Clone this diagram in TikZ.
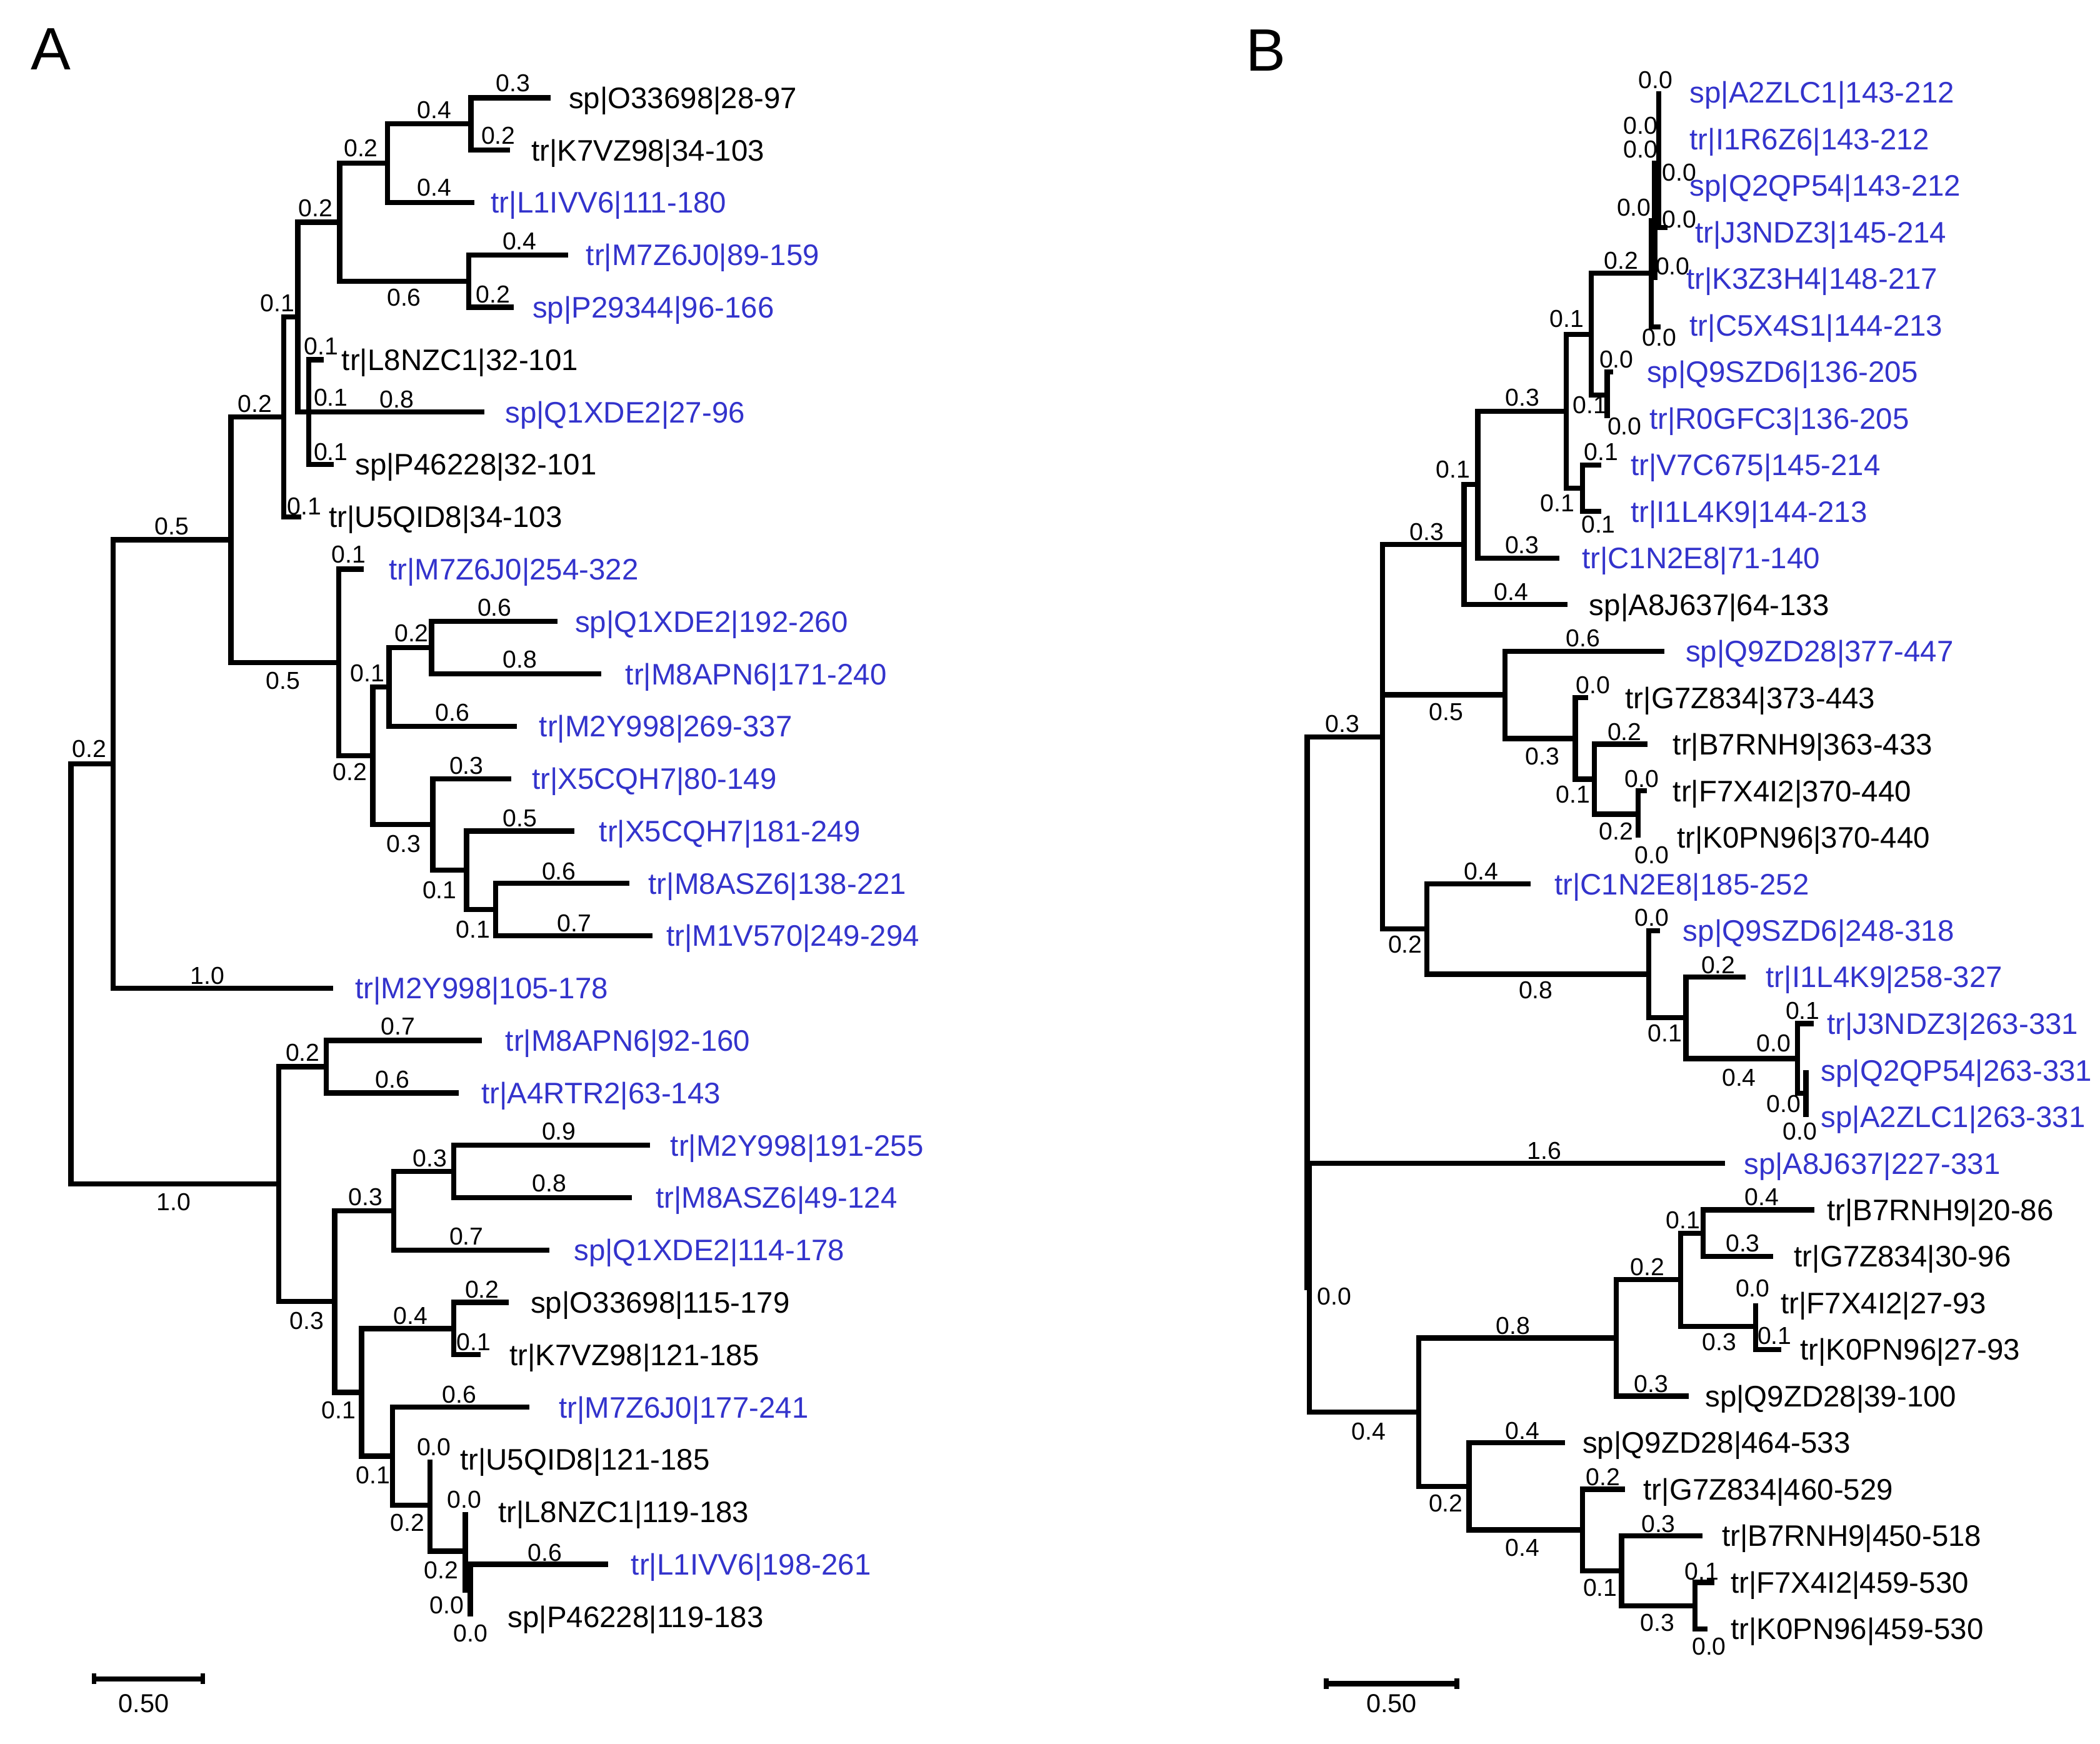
\documentclass[tikz,border=0pt]{standalone}
\usepackage{fontspec}
\setmainfont{Liberation Sans}
\definecolor{tblue}{RGB}{51,51,204}
\newcount\blc
\tikzset{
  br/.style={line width=1.1pt},
  lab/.style={inner sep=0pt, font=\fontsize{6.3}{7.5}\selectfont},
  num/.style={inner sep=0pt, font=\fontsize{5.2}{6}\selectfont},
  scl/.style={inner sep=0pt, font=\fontsize{5.5}{6.5}\selectfont},
  panel/.style={inner sep=0pt, font=\fontsize{12.7}{15}\selectfont},
  blu/.style={text=tblue},
  blk/.style={text=black}
}
\newcommand\tl[5]{\node[lab,#5,anchor=base west] (#1) at (#2,{#3+7.9}) {#4};}
\newcommand\bl[3]{\global\advance\blc by 1 \node[num] (bl\the\blc) at (#1,#2) {#3};}
\begin{document}
\begin{tikzpicture}[x=0.01cm,y=-0.01cm]
\fill[white] (0,0) rectangle (1568,1302);
\useasboundingbox (0,0) rectangle (1568,1302);
\node[panel] (pA) at (38,36.5) {A};
\node[panel] (pB) at (945,37.5) {B};
% ================= Panel A branches =================
\draw[br] (411,73) -| (351.7,112.1) -- (381,112.1);
\draw[br] (351.7,92.55) -| (289.2,151.2) -- (354,151.2);
\draw[br] (424,190.3) -| (350,229.4) -- (383.6,229.4);
\draw[br] (289.2,121.9) -| (253.6,209.85) -- (350,209.85);
\draw[br] (241.5,268.5) -| (230.6,346.7) -- (249,346.7);
\draw[br] (230.6,307.6) -- (361.6,307.6);
\draw[br] (253.6,165.9) -| (222.4,307.6) -- (230.6,307.6);
\draw[br] (222.4,236.75) -| (211.9,385.8) -- (225,385.8);
\draw[br] (416.2,464) -| (322.3,503.1) -- (448.8,503.1);
\draw[br] (322.3,483.55) -| (290.5,542.2) -- (386,542.2);
\draw[br] (469.8,659.5) -| (370.1,698.6) -- (487.4,698.6);
\draw[br] (428.7,620.4) -| (348.3,679.05) -- (370.1,679.05);
\draw[br] (381.8,581.3) -| (323.2,649.7) -- (348.3,649.7);
\draw[br] (290.5,512.9) -| (278.4,615.5) -- (323.2,615.5);
\draw[br] (271.6,424.9) -| (252.8,564.2) -- (278.4,564.2);
\draw[br] (211.9,311.3) -| (172.4,494.55) -- (252.8,494.55);
\draw[br] (172.4,402.9) -| (84.4,737.7) -- (248.6,737.7);
\draw[br] (360,776.8) -| (243.6,815.9) -- (342.5,815.9);
\draw[br] (485.3,855) -| (338.7,894.1) -- (471.9,894.1);
\draw[br] (338.7,874.55) -| (293.9,933.2) -- (410.3,933.2);
\draw[br] (379.7,972.3) -| (338.7,1011.4) -- (358.8,1011.4);
\draw[br] (453.9,1167.8) -| (351.2,1206.9);
\draw[br] (347.5,1128.7) -- (347.5,1187.35) -- (351.2,1187.35);
\draw[br] (321.1,1089.6) -- (321.1,1158) -- (347.5,1158);
\draw[br] (395.2,1050.5) -| (293,1123.8) -- (321.1,1123.8);
\draw[br] (338.7,991.85) -| (270,1087.15) -- (293,1087.15);
\draw[br] (293.9,903.9) -| (249.9,1039.5) -- (270,1039.5);
\draw[br] (243.6,796.35) -| (208,971.7) -- (249.9,971.7);
\draw[br] (84.4,570.3) -| (53,884) -- (208,884);
% ================= Panel A labels =================
\tl{a0}{424}{73}{sp|O33698|28-97}{blk}
\tl{a1}{396}{112.1}{tr|K7VZ98|34-103}{blk}
\tl{a2}{366}{151.2}{tr|L1IVV6|111-180}{blu}
\tl{a3}{437}{190.3}{tr|M7Z6J0|89-159}{blu}
\tl{a4}{397}{229.4}{sp|P29344|96-166}{blu}
\tl{a5}{254.5}{268.5}{tr|L8NZC1|32-101}{blk}
\tl{a6}{376.5}{307.6}{sp|Q1XDE2|27-96}{blu}
\tl{a7}{264.5}{346.7}{sp|P46228|32-101}{blk}
\tl{a8}{245}{385.8}{tr|U5QID8|34-103}{blk}
\tl{a9}{289.7}{424.9}{tr|M7Z6J0|254-322}{blu}
\tl{a10}{428.7}{464}{sp|Q1XDE2|192-260}{blu}
\tl{a11}{466.4}{503.1}{tr|M8APN6|171-240}{blu}
\tl{a12}{402}{542.2}{tr|M2Y998|269-337}{blu}
\tl{a13}{396.5}{581.3}{tr|X5CQH7|80-149}{blu}
\tl{a14}{446.8}{620.4}{tr|X5CQH7|181-249}{blu}
\tl{a15}{483.6}{659.5}{tr|M8ASZ6|138-221}{blu}
\tl{a16}{497}{698.6}{tr|M1V570|249-294}{blu}
\tl{a17}{264.5}{737.7}{tr|M2Y998|105-178}{blu}
\tl{a18}{376.8}{776.8}{tr|M8APN6|92-160}{blu}
\tl{a19}{358.8}{815.9}{tr|A4RTR2|63-143}{blu}
\tl{a20}{500}{855}{tr|M2Y998|191-255}{blu}
\tl{a21}{489}{894.1}{tr|M8ASZ6|49-124}{blu}
\tl{a22}{427.9}{933.2}{sp|Q1XDE2|114-178}{blu}
\tl{a23}{395.6}{972.3}{sp|O33698|115-179}{blk}
\tl{a24}{379.7}{1011.4}{tr|K7VZ98|121-185}{blk}
\tl{a25}{416.6}{1050.5}{tr|M7Z6J0|177-241}{blu}
\tl{a26}{342.9}{1089.6}{tr|U5QID8|121-185}{blk}
\tl{a27}{371.3}{1128.7}{tr|L8NZC1|119-183}{blk}
\tl{a28}{470.6}{1167.8}{tr|L1IVV6|198-261}{blu}
\tl{a29}{378.5}{1206.9}{sp|P46228|119-183}{blk}
% ================= Panel A branch lengths =================
\bl{383}{62.2}{0.3}
\bl{324.4}{82}{0.4}
\bl{372.1}{101.3}{0.2}
\bl{269.5}{110.4}{0.2}
\bl{324.4}{140}{0.4}
\bl{235.5}{155.5}{0.2}
\bl{388}{179.9}{0.4}
\bl{301.7}{222}{0.6}
\bl{368.2}{219.7}{0.2}
\bl{207}{226.5}{0.1}
\bl{239.8}{258.4}{0.1}
\bl{190.5}{301.6}{0.2}
\bl{247}{297}{0.1}
\bl{296.4}{298.2}{0.8}
\bl{247}{337.6}{0.1}
\bl{227.3}{377.9}{0.1}
\bl{128.4}{393}{0.5}
\bl{260.3}{414}{0.1}
\bl{369.3}{453.4}{0.6}
\bl{307.3}{472.7}{0.2}
\bl{388.1}{492.5}{0.8}
\bl{211.3}{508}{0.5}
\bl{274.2}{502.7}{0.1}
\bl{337.8}{531.8}{0.6}
\bl{66.8}{559}{0.2}
\bl{348.3}{571.6}{0.3}
\bl{261.2}{576.1}{0.2}
\bl{388.1}{610.7}{0.5}
\bl{301.4}{630.2}{0.3}
\bl{417.4}{650.7}{0.6}
\bl{328.2}{664.3}{0.1}
\bl{428.7}{689.3}{0.7}
\bl{353.3}{693.9}{0.1}
\bl{154.8}{728.4}{1.0}
\bl{297.2}{766.2}{0.7}
\bl{226}{786}{0.2}
\bl{293}{805.7}{0.6}
\bl{417.4}{844.7}{0.9}
\bl{321}{864.5}{0.3}
\bl{410.3}{883.6}{0.8}
\bl{272.9}{893.6}{0.3}
\bl{129.6}{897.4}{1.0}
\bl{348.3}{923.2}{0.7}
\bl{360}{962.7}{0.2}
\bl{306.4}{982.2}{0.4}
\bl{229}{986}{0.3}
\bl{353.8}{1001.7}{0.1}
\bl{342.9}{1041.2}{0.6}
\bl{252.8}{1052.9}{0.1}
\bl{324}{1080.2}{0.0}
\bl{278.4}{1101.5}{0.1}
\bl{346.6}{1119.7}{0.0}
\bl{304.3}{1137}{0.2}
\bl{407}{1159}{0.6}
\bl{329.5}{1172.2}{0.2}
\bl{333.6}{1198.2}{0.0}
\bl{351.2}{1219.3}{0.0}
% ================= Panel B branches =================
\draw[br] (1238.5,68) -- (1238.5,170) -- (1245,170);
\draw[br] (1235.5,120) -- (1235.5,209);
\draw[br] (1233,163) -- (1233,244) -- (1240,244);
\draw[br] (1233,204) -| (1188,295) -- (1200,295);
\draw[br] (1204.5,277.6) -| (1200,312.3);
\draw[br] (1195.8,347.1) -| (1181.5,381.8) -- (1195.8,381.8);
\draw[br] (1188,249.5) -| (1169.3,364.45) -- (1181.5,364.45);
\draw[br] (1169.3,307) -| (1103.4,416.6) -- (1164.4,416.6);
\draw[br] (1103.4,361.8) -| (1093.2,451.4) -- (1170.5,451.4);
\draw[br] (1229.5,590.4) -| (1223,625.2);
\draw[br] (1230.3,555.6) -| (1190.5,607.8) -- (1223,607.8);
\draw[br] (1185.6,520.9) -| (1176.2,581.7) -- (1190.5,581.7);
\draw[br] (1242.5,486.1) -| (1123.7,551.3) -- (1176.2,551.3);
\draw[br] (1348.4,799) -- (1348.4,833.7);
\draw[br] (1354.4,764.2) -| (1342.2,816.35) -- (1348.4,816.35);
\draw[br] (1303.6,729.4) -| (1258.8,790.3) -- (1342.2,790.3);
\draw[br] (1239.3,694.7) -| (1231.2,759.85) -- (1258.8,759.85);
\draw[br] (1142.9,659.9) -| (1065.5,727.3) -- (1231.2,727.3);
\draw[br] (1093.2,406.6) -| (1032.2,693.6) -- (1065.5,693.6);
\draw[br] (1032.2,518.7) -- (1123.7,518.7);
\draw[br] (1032.2,550.1) -| (976,963);
\draw[br] (1310.9,972.8) -- (1310.9,1007.5) -- (1330,1007.5);
\draw[br] (1354.5,903.2) -| (1271.8,938) -- (1323.9,938);
\draw[br] (1271.8,920.6) -| (1254.8,990.15) -- (1310.9,990.15);
\draw[br] (1254.8,955.4) -| (1206.7,1042.3) -- (1260.9,1042.3);
\draw[br] (1280,1181.3) -| (1265.7,1216.1) -- (1275,1216.1);
\draw[br] (1271,1146.6) -| (1210.8,1198.7) -- (1265.7,1198.7);
\draw[br] (1213.3,1111.8) -| (1181.5,1172.65) -- (1210.8,1172.65);
\draw[br] (1168.5,1077) -| (1096.9,1142.2) -- (1181.5,1142.2);
\draw[br] (1206.7,998.85) -| (1059.4,1109.6) -- (1096.9,1109.6);
\draw[br] (1288.1,868.5) -| (977.5,1054.2) -- (1059.4,1054.2);
% ================= Panel B labels =================
\tl{b0}{1261}{69}{sp|A2ZLC1|143-212}{blu}
\tl{b1}{1261}{103.8}{tr|I1R6Z6|143-212}{blu}
\tl{b2}{1261}{138.5}{sp|Q2QP54|143-212}{blu}
\tl{b3}{1265}{173.3}{tr|J3NDZ3|145-214}{blu}
\tl{b4}{1258.5}{208}{tr|K3Z3H4|148-217}{blu}
\tl{b5}{1261}{242.8}{tr|C5X4S1|144-213}{blu}
\tl{b6}{1229}{277.6}{sp|Q9SZD6|136-205}{blu}
\tl{b7}{1231}{312.3}{tr|R0GFC3|136-205}{blu}
\tl{b8}{1217}{347.1}{tr|V7C675|145-214}{blu}
\tl{b9}{1217}{381.8}{tr|I1L4K9|144-213}{blu}
\tl{b10}{1180.5}{416.6}{tr|C1N2E8|71-140}{blu}
\tl{b11}{1186}{451.4}{sp|A8J637|64-133}{blk}
\tl{b12}{1258}{486.1}{sp|Q9ZD28|377-447}{blu}
\tl{b13}{1213}{520.9}{tr|G7Z834|373-443}{blk}
\tl{b14}{1248.5}{555.6}{tr|B7RNH9|363-433}{blk}
\tl{b15}{1248.5}{590.4}{tr|F7X4I2|370-440}{blk}
\tl{b16}{1251.5}{625.2}{tr|K0PN96|370-440}{blk}
\tl{b17}{1160}{659.9}{tr|C1N2E8|185-252}{blu}
\tl{b18}{1256}{694.7}{sp|Q9SZD6|248-318}{blu}
\tl{b19}{1318}{729.4}{tr|I1L4K9|258-327}{blu}
\tl{b20}{1363.5}{764.2}{tr|J3NDZ3|263-331}{blu}
\tl{b21}{1359}{799}{sp|Q2QP54|263-331}{blu}
\tl{b22}{1359}{833.7}{sp|A2ZLC1|263-331}{blu}
\tl{b23}{1301.5}{868.5}{sp|A8J637|227-331}{blu}
\tl{b24}{1363.5}{903.2}{tr|B7RNH9|20-86}{blk}
\tl{b25}{1339}{938}{tr|G7Z834|30-96}{blk}
\tl{b26}{1329}{972.8}{tr|F7X4I2|27-93}{blk}
\tl{b27}{1343.5}{1007.5}{tr|K0PN96|27-93}{blk}
\tl{b28}{1272.5}{1042.3}{sp|Q9ZD28|39-100}{blk}
\tl{b29}{1181}{1077}{sp|Q9ZD28|464-533}{blk}
\tl{b30}{1226.5}{1111.8}{tr|G7Z834|460-529}{blk}
\tl{b31}{1285}{1146.6}{tr|B7RNH9|450-518}{blk}
\tl{b32}{1291.5}{1181.3}{tr|F7X4I2|459-530}{blk}
\tl{b33}{1291.5}{1216.1}{tr|K0PN96|459-530}{blk}
% ================= Panel B branch lengths =================
\bl{1236}{59.5}{0.0}
\bl{1225}{94}{0.0}
\bl{1225}{111.5}{0.0}
\bl{1254}{129}{0.0}
\bl{1220}{155}{0.0}
\bl{1254}{164}{0.0}
\bl{1210.6}{194.4}{0.2}
\bl{1249}{198.6}{0.0}
\bl{1239}{252}{0.0}
\bl{1207}{268.5}{0.0}
\bl{1170}{238}{0.1}
\bl{1187}{302.5}{0.1}
\bl{1136.8}{296.8}{0.3}
\bl{1213}{318.3}{0.0}
\bl{1195.5}{337.4}{0.1}
\bl{1085}{350.6}{0.1}
\bl{1163}{375.7}{0.1}
\bl{1193.5}{391.3}{0.1}
\bl{1065.5}{397}{0.3}
\bl{1136.5}{406.8}{0.3}
\bl{1128.3}{442}{0.4}
\bl{1182}{476.5}{0.6}
\bl{1189.5}{511.5}{0.0}
\bl{1079.8}{531.5}{0.5}
\bl{1002.5}{540.6}{0.3}
\bl{1213}{546.6}{0.2}
\bl{1151.8}{564.6}{0.3}
\bl{1226}{581.5}{0.0}
\bl{1174.5}{593.3}{0.1}
\bl{1206.8}{620.8}{0.2}
\bl{1233.3}{638.5}{0.0}
\bl{1106}{650.3}{0.4}
\bl{1233.4}{685}{0.0}
\bl{1049.2}{705}{0.2}
\bl{1283}{720.3}{0.2}
\bl{1146.8}{739}{0.8}
\bl{1346}{754.4}{0.1}
\bl{1243.2}{771.4}{0.1}
\bl{1324.5}{779}{0.0}
\bl{1298.5}{804.6}{0.4}
\bl{1331.8}{824.3}{0.0}
\bl{1344}{844.8}{0.0}
\bl{1153}{859.3}{1.6}
\bl{1315.6}{893.8}{0.4}
\bl{1256.6}{911.1}{0.1}
\bl{1301.3}{928.3}{0.3}
\bl{1230.2}{945.8}{0.2}
\bl{1308.7}{961.8}{0.0}
\bl{996.3}{968}{0.0}
\bl{1129.6}{990}{0.8}
\bl{1325}{997.2}{0.1}
\bl{1283.8}{1002}{0.3}
\bl{1233}{1033.1}{0.3}
\bl{1136.6}{1068.3}{0.4}
\bl{1021.8}{1068.5}{0.4}
\bl{1196.8}{1102.5}{0.2}
\bl{1079.6}{1122.1}{0.2}
\bl{1238.3}{1137.9}{0.3}
\bl{1136.6}{1155.6}{0.4}
\bl{1270.8}{1173.1}{0.1}
\bl{1194.8}{1185.1}{0.1}
\bl{1237.5}{1211.4}{0.3}
\bl{1276.1}{1229.3}{0.0}
% ================= Scale bars =================
\coordinate (sa1) at (68.4,1253.3);
\coordinate (sa2) at (153.2,1253.3);
\draw[br] (sa1) -- (sa2);
\fill (68.4,1249.4) rectangle (71.8,1257.2);
\fill (149.8,1249.4) rectangle (153.2,1257.2);
\node[scl] (sA) at (107.4,1271.6) {0.50};
\coordinate (sb1) at (988.5,1256.9);
\coordinate (sb2) at (1089.7,1256.9);
\draw[br] (sb1) -- (sb2);
\fill (988.5,1253) rectangle (992.2,1260.8);
\fill (1086,1253) rectangle (1089.7,1260.8);
\node[scl] (sB) at (1039,1271.6) {0.50};
\end{tikzpicture}
\end{document}
